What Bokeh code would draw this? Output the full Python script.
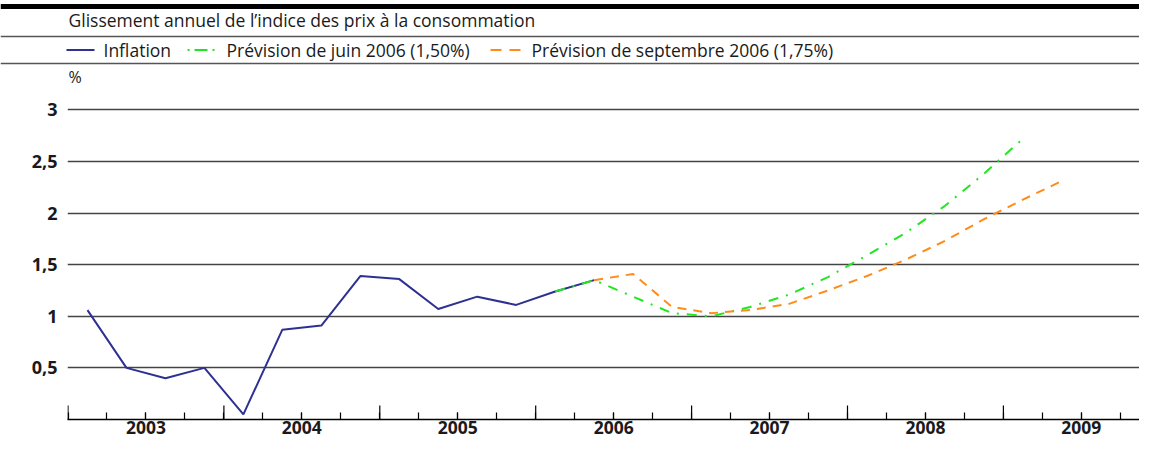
import math
from bokeh.plotting import figure
from bokeh.models import Range1d, FixedTicker
from bokeh.layouts import column
from bokeh.embed import file_html
from bokeh.resources import INLINE
from bokeh.core.properties import value

# ---------------- data ----------------
title_text = "Glissement annuel de l’indice des prix à la consommation"
unit_label = "%"
series_names = ["Inflation", "Prévision de juin 2006 (1,50%)", "Prévision de septembre 2006 (1,75%)"]

years = [2003, 2004, 2005, 2006, 2007, 2008, 2009]
year_labels = ["2003", "2004", "2005", "2006", "2007", "2008", "2009"]
y_ticks = [0.5, 1.0, 1.5, 2.0, 2.5, 3.0]
y_tick_labels = ["0,5", "1", "1,5", "2", "2,5", "3"]

# quarterly observations (placed at the middle of each quarter)
inflation_t = [2003.125, 2003.375, 2003.625, 2003.875, 2004.125, 2004.375, 2004.625,
               2004.875, 2005.125, 2005.375, 2005.625, 2005.875, 2006.125, 2006.375]
inflation_v = [1.06, 0.50, 0.40, 0.50, 0.05, 0.87, 0.91,
               1.39, 1.36, 1.07, 1.19, 1.11, 1.24, 1.35]

june_t = [2006.125, 2006.375, 2006.625, 2006.875, 2007.125, 2007.375, 2007.625,
          2007.875, 2008.125, 2008.375, 2008.625, 2008.875, 2009.125]
june_v = [1.24, 1.35, 1.19, 1.03, 1.00, 1.09, 1.21,
          1.38, 1.59, 1.81, 2.07, 2.38, 2.72]

sept_t = [2006.375, 2006.625, 2006.875, 2007.125, 2007.375, 2007.625, 2007.875,
          2008.125, 2008.375, 2008.625, 2008.875, 2009.125, 2009.375]
sept_v = [1.35, 1.41, 1.09, 1.03, 1.06, 1.12, 1.25,
          1.39, 1.55, 1.73, 1.94, 2.13, 2.31]

# ---------------- style ----------------
FONT = "Open Sans"
BLUE = "#2e3192"
GREEN = "#22e622"
ORANGE = "#ff8c1a"
TEXT = "#1a1a1a"
RULE = "#555555"
GREEN_DASH = "10 8 2 8"
ORANGE_DASH = "9 7"

W = 1139
HH = 89
MH = 352

# ---------------- header ----------------
hp = figure(width=W, height=HH, x_range=Range1d(0, W), y_range=Range1d(HH, 0),
            output_backend="svg", toolbar_location=None,
            x_axis_location=None, y_axis_location=None,
            min_border=0, min_border_left=0, min_border_right=0,
            min_border_top=0, min_border_bottom=0)
hp.frame_align = False
hp.grid.visible = False
hp.outline_line_color = None

hp.hspan(y=[6], line_color="black", line_width=5)
hp.hspan(y=[36, 63], line_color=RULE, line_width=1.5)
hp.text(x=[68], y=[19.5], text=[title_text], text_font=value(FONT), text_font_size="17.5px",
        text_baseline="middle", text_color=TEXT)
hp.text(x=[68], y=[76.5], text=[unit_label], text_font=value(FONT), text_font_size="16px",
        text_baseline="middle", text_color=TEXT)

# legend row
leg_y = 49.5
hp.segment(x0=[66], x1=[94], y0=[leg_y], y1=[leg_y], line_color=BLUE, line_width=2)
hp.segment(x0=[187], x1=[216], y0=[leg_y], y1=[leg_y], line_color=GREEN, line_width=2,
           line_dash="2 5 13 5")
hp.segment(x0=[490], x1=[520], y0=[leg_y], y1=[leg_y], line_color=ORANGE, line_width=2,
           line_dash="11 8")
hp.text(x=[103, 226, 531], y=[leg_y] * 3, text=series_names, text_font=value(FONT),
        text_font_size="17.5px", text_baseline="middle", text_color=TEXT)

# ---------------- main chart ----------------
px_per_year = 155.9
frame_left = 67
x_start = 2003 - 0.5 / px_per_year
x_end = x_start + (W - frame_left) / px_per_year

p = figure(width=W, height=MH, x_range=Range1d(x_start, x_end), y_range=Range1d(0, 3.1),
           output_backend="svg", toolbar_location=None,
           min_border_left=frame_left, min_border_right=0,
           min_border_top=10, min_border_bottom=22)
p.frame_align = False
p.outline_line_color = None
p.xgrid.visible = False

quarters = [y + q / 4 for y in years for q in range(4)]
p.xaxis.ticker = FixedTicker(ticks=[y + 0.5 for y in years], minor_ticks=quarters)
p.xaxis.major_label_overrides = {y + 0.5: lab for y, lab in zip(years, year_labels)}
p.xaxis.major_tick_in = 7
p.xaxis.major_tick_out = 0
p.xaxis.minor_tick_in = 7
p.xaxis.minor_tick_out = 0
p.xaxis.axis_line_color = "black"
p.xaxis.axis_line_width = 1.5
p.xaxis.major_tick_line_color = "black"
p.xaxis.major_tick_line_width = 1.2
p.xaxis.minor_tick_line_color = "black"
p.xaxis.minor_tick_line_width = 1.2
p.xaxis.major_label_standoff = 1
p.xaxis.major_label_text_font = FONT
p.xaxis.major_label_text_font_style = "bold"
p.xaxis.major_label_text_font_size = "17.5px"
p.xaxis.major_label_text_color = TEXT

p.yaxis.ticker = FixedTicker(ticks=y_ticks)
p.yaxis.major_label_overrides = {t: lab for t, lab in zip(y_ticks, y_tick_labels)}
p.yaxis.axis_line_color = None
p.yaxis.major_tick_line_color = None
p.yaxis.minor_tick_line_color = None
p.yaxis.major_label_standoff = 4
p.yaxis.major_label_text_font = FONT
p.yaxis.major_label_text_font_style = "bold"
p.yaxis.major_label_text_font_size = "18px"
p.yaxis.major_label_text_color = TEXT

p.ygrid.grid_line_color = "#444444"
p.ygrid.grid_line_width = 1.5

# long ticks at the year boundaries
p.scatter(x=years, y=[0] * len(years), marker="dash", angle=math.pi / 2, size=28,
          line_color="black", line_width=1.2)

p.line(inflation_t, inflation_v, line_color=BLUE, line_width=2)
p.line(june_t, june_v, line_color=GREEN, line_width=2, line_dash=GREEN_DASH)
p.line(sept_t, sept_v, line_color=ORANGE, line_width=2, line_dash=ORANGE_DASH)

layout = column(hp, p, spacing=0)
open("out.html", "w").write(file_html(layout, INLINE))
